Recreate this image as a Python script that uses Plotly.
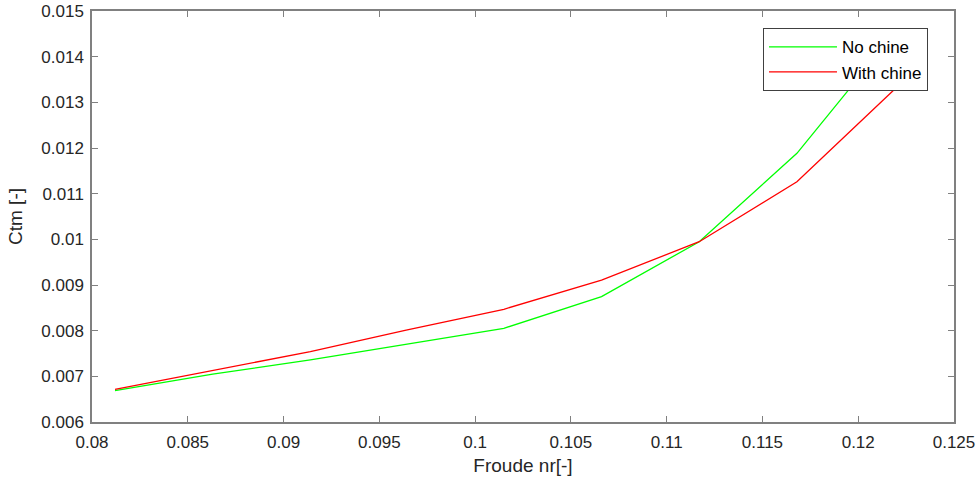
import plotly.graph_objects as go

froude = [0.0812, 0.0863, 0.0914, 0.0964, 0.1015, 0.1066, 0.1117, 0.1168, 0.1219]
ctm_no_chine = [0.006685, 0.007050, 0.007358, 0.007700, 0.008052, 0.008744, 0.009948, 0.011884, 0.014510]
ctm_with_chine = [0.006716, 0.007123, 0.007540, 0.008010, 0.008468, 0.009109, 0.009948, 0.011262, 0.013285]

x_ticks = [0.08, 0.085, 0.09, 0.095, 0.1, 0.105, 0.11, 0.115, 0.12, 0.125]
x_ticklabels = ["0.08", "0.085", "0.09", "0.095", "0.1", "0.105", "0.11", "0.115", "0.12", "0.125"]
y_ticks = [0.006, 0.007, 0.008, 0.009, 0.01, 0.011, 0.012, 0.013, 0.014, 0.015]
y_ticklabels = ["0.006", "0.007", "0.008", "0.009", "0.01", "0.011", "0.012", "0.013", "0.014", "0.015"]

FONT = "Liberation Sans, Arial, sans-serif"
AX = "#808080"
TXT = "#262626"

fig = go.Figure()
fig.add_trace(go.Scatter(x=froude, y=ctm_no_chine, mode="lines", name="No chine",
                         line=dict(color="#00ff00", width=1.3)))
fig.add_trace(go.Scatter(x=froude, y=ctm_with_chine, mode="lines", name="With chine",
                         line=dict(color="#ff0000", width=1.3)))

axis_common = dict(showgrid=False, zeroline=False, showline=True, linecolor=AX, linewidth=1.5,
                   mirror="allticks", ticks="inside", ticklen=6, tickcolor=AX, tickwidth=1,
                   automargin=False,
                   tickfont=dict(family=FONT, size=17, color=TXT))

fig.update_xaxes(range=[0.08, 0.125], tickvals=x_ticks, ticktext=x_ticklabels,
                 ticklabelstandoff=4,
                 title=dict(text="Froude nr[-]", font=dict(family=FONT, size=19, color=TXT), standoff=8),
                 **axis_common)
fig.update_yaxes(range=[0.006, 0.015], tickvals=y_ticks, ticktext=y_ticklabels,
                 ticklabelstandoff=3,
                 title=dict(text="Ctm [-]", font=dict(family=FONT, size=19, color=TXT), standoff=14),
                 **axis_common)

fig.update_layout(
    width=980, height=485,
    margin=dict(l=92, r=26, t=11, b=63),
    paper_bgcolor="white", plot_bgcolor="white",
    showlegend=True,
    legend=dict(x=0.7784, y=0.958, xanchor="left", yanchor="top",
                bgcolor="white", bordercolor="#404040", borderwidth=1,
                font=dict(family=FONT, size=17, color="#000000"),
                tracegroupgap=0, itemwidth=68),
)

fig.write_html("out.html")
